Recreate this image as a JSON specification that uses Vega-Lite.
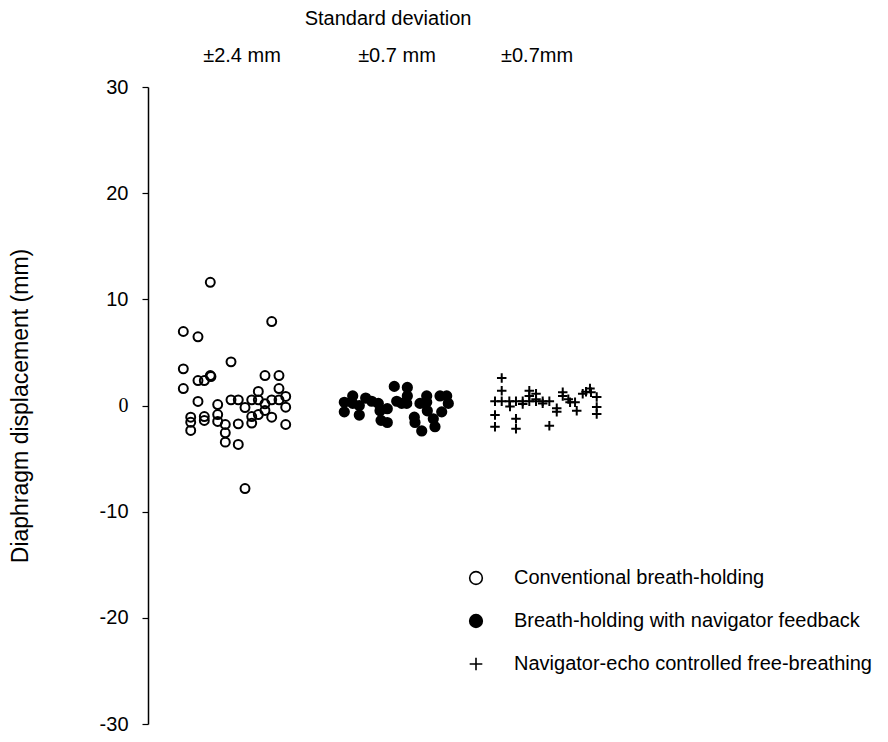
{
  "$schema": "https://vega.github.io/schema/vega-lite/v6.json",
  "width": 740,
  "height": 637,
  "autosize": {"type": "none"},
  "padding": {"left": 148, "top": 87, "right": 0, "bottom": 18},
  "background": "white",
  "config": {"view": {"stroke": null}, "font": "Liberation Sans"},
  "datasets": {
    "points": [
      {"group": "Conventional breath-holding", "x": 5.25, "y": 6.97},
      {"group": "Conventional breath-holding", "x": 5.25, "y": 3.45},
      {"group": "Conventional breath-holding", "x": 5.25, "y": 1.6},
      {"group": "Conventional breath-holding", "x": 6.35, "y": -1.1},
      {"group": "Conventional breath-holding", "x": 6.35, "y": -1.57},
      {"group": "Conventional breath-holding", "x": 6.35, "y": -2.35},
      {"group": "Conventional breath-holding", "x": 7.43, "y": 6.47},
      {"group": "Conventional breath-holding", "x": 7.43, "y": 2.35},
      {"group": "Conventional breath-holding", "x": 7.43, "y": 0.38},
      {"group": "Conventional breath-holding", "x": 8.37, "y": 2.35},
      {"group": "Conventional breath-holding", "x": 8.37, "y": -1.04},
      {"group": "Conventional breath-holding", "x": 8.37, "y": -1.41},
      {"group": "Conventional breath-holding", "x": 9.26, "y": 11.6},
      {"group": "Conventional breath-holding", "x": 9.26, "y": 2.82},
      {"group": "Conventional breath-holding", "x": 9.36, "y": 2.73},
      {"group": "Conventional breath-holding", "x": 10.36, "y": 0.09},
      {"group": "Conventional breath-holding", "x": 10.36, "y": -0.85},
      {"group": "Conventional breath-holding", "x": 10.36, "y": -1.5},
      {"group": "Conventional breath-holding", "x": 11.49, "y": -1.79},
      {"group": "Conventional breath-holding", "x": 11.49, "y": -2.57},
      {"group": "Conventional breath-holding", "x": 11.49, "y": -3.45},
      {"group": "Conventional breath-holding", "x": 12.34, "y": 4.11},
      {"group": "Conventional breath-holding", "x": 12.34, "y": 0.53},
      {"group": "Conventional breath-holding", "x": 13.42, "y": 0.53},
      {"group": "Conventional breath-holding", "x": 13.42, "y": -1.73},
      {"group": "Conventional breath-holding", "x": 13.42, "y": -3.67},
      {"group": "Conventional breath-holding", "x": 14.42, "y": -0.19},
      {"group": "Conventional breath-holding", "x": 14.42, "y": -7.82},
      {"group": "Conventional breath-holding", "x": 15.42, "y": 0.53},
      {"group": "Conventional breath-holding", "x": 15.42, "y": -1.04},
      {"group": "Conventional breath-holding", "x": 15.42, "y": -1.66},
      {"group": "Conventional breath-holding", "x": 16.4, "y": 1.32},
      {"group": "Conventional breath-holding", "x": 16.4, "y": 0.53},
      {"group": "Conventional breath-holding", "x": 16.4, "y": -0.85},
      {"group": "Conventional breath-holding", "x": 17.39, "y": 2.82},
      {"group": "Conventional breath-holding", "x": 17.39, "y": 0.16},
      {"group": "Conventional breath-holding", "x": 17.39, "y": -0.47},
      {"group": "Conventional breath-holding", "x": 18.39, "y": 7.91},
      {"group": "Conventional breath-holding", "x": 18.39, "y": 0.53},
      {"group": "Conventional breath-holding", "x": 18.39, "y": -1.1},
      {"group": "Conventional breath-holding", "x": 19.47, "y": 2.82},
      {"group": "Conventional breath-holding", "x": 19.47, "y": 1.6},
      {"group": "Conventional breath-holding", "x": 19.47, "y": 0.53},
      {"group": "Conventional breath-holding", "x": 20.47, "y": 0.85},
      {"group": "Conventional breath-holding", "x": 20.47, "y": -0.16},
      {"group": "Conventional breath-holding", "x": 20.47, "y": -1.79},

      {"group": "Breath-holding with navigator feedback", "x": 29.18, "y": 0.3},
      {"group": "Breath-holding with navigator feedback", "x": 29.18, "y": -0.6},
      {"group": "Breath-holding with navigator feedback", "x": 30.43, "y": 0.9},
      {"group": "Breath-holding with navigator feedback", "x": 30.43, "y": 0.2},
      {"group": "Breath-holding with navigator feedback", "x": 31.41, "y": 0.0},
      {"group": "Breath-holding with navigator feedback", "x": 31.41, "y": -0.9},
      {"group": "Breath-holding with navigator feedback", "x": 32.36, "y": 0.7},
      {"group": "Breath-holding with navigator feedback", "x": 33.25, "y": 0.4},
      {"group": "Breath-holding with navigator feedback", "x": 34.24, "y": 0.2},
      {"group": "Breath-holding with navigator feedback", "x": 34.49, "y": -0.5},
      {"group": "Breath-holding with navigator feedback", "x": 34.64, "y": -1.4},
      {"group": "Breath-holding with navigator feedback", "x": 35.57, "y": -1.6},
      {"group": "Breath-holding with navigator feedback", "x": 35.57, "y": -0.3},
      {"group": "Breath-holding with navigator feedback", "x": 36.61, "y": 1.8},
      {"group": "Breath-holding with navigator feedback", "x": 36.97, "y": 0.4},
      {"group": "Breath-holding with navigator feedback", "x": 37.71, "y": 0.2},
      {"group": "Breath-holding with navigator feedback", "x": 38.55, "y": 1.7},
      {"group": "Breath-holding with navigator feedback", "x": 38.55, "y": 0.9},
      {"group": "Breath-holding with navigator feedback", "x": 38.46, "y": 0.2},
      {"group": "Breath-holding with navigator feedback", "x": 39.59, "y": -1.1},
      {"group": "Breath-holding with navigator feedback", "x": 39.69, "y": -1.6},
      {"group": "Breath-holding with navigator feedback", "x": 40.43, "y": 0.2},
      {"group": "Breath-holding with navigator feedback", "x": 40.69, "y": -2.4},
      {"group": "Breath-holding with navigator feedback", "x": 41.43, "y": 0.9},
      {"group": "Breath-holding with navigator feedback", "x": 41.43, "y": 0.3},
      {"group": "Breath-holding with navigator feedback", "x": 41.52, "y": -0.5},
      {"group": "Breath-holding with navigator feedback", "x": 42.41, "y": -1.25},
      {"group": "Breath-holding with navigator feedback", "x": 42.66, "y": -2.0},
      {"group": "Breath-holding with navigator feedback", "x": 43.41, "y": 0.9},
      {"group": "Breath-holding with navigator feedback", "x": 43.66, "y": -0.6},
      {"group": "Breath-holding with navigator feedback", "x": 44.4, "y": 0.9},
      {"group": "Breath-holding with navigator feedback", "x": 44.64, "y": 0.2},

      {"group": "Navigator-echo controlled free-breathing", "x": 51.58, "y": 0.4},
      {"group": "Navigator-echo controlled free-breathing", "x": 51.58, "y": -0.9},
      {"group": "Navigator-echo controlled free-breathing", "x": 51.58, "y": -2.0},
      {"group": "Navigator-echo controlled free-breathing", "x": 52.58, "y": 2.6},
      {"group": "Navigator-echo controlled free-breathing", "x": 52.58, "y": 1.4},
      {"group": "Navigator-echo controlled free-breathing", "x": 52.58, "y": 0.4},
      {"group": "Navigator-echo controlled free-breathing", "x": 53.71, "y": 0.4},
      {"group": "Navigator-echo controlled free-breathing", "x": 53.81, "y": -0.1},
      {"group": "Navigator-echo controlled free-breathing", "x": 54.7, "y": 0.4},
      {"group": "Navigator-echo controlled free-breathing", "x": 54.7, "y": -1.25},
      {"group": "Navigator-echo controlled free-breathing", "x": 54.7, "y": -2.2},
      {"group": "Navigator-echo controlled free-breathing", "x": 55.7, "y": 0.4},
      {"group": "Navigator-echo controlled free-breathing", "x": 55.7, "y": 0.15},
      {"group": "Navigator-echo controlled free-breathing", "x": 56.68, "y": 1.4},
      {"group": "Navigator-echo controlled free-breathing", "x": 56.68, "y": 0.9},
      {"group": "Navigator-echo controlled free-breathing", "x": 56.68, "y": 0.4},
      {"group": "Navigator-echo controlled free-breathing", "x": 57.68, "y": 1.1},
      {"group": "Navigator-echo controlled free-breathing", "x": 57.68, "y": 0.6},
      {"group": "Navigator-echo controlled free-breathing", "x": 57.68, "y": 0.4},
      {"group": "Navigator-echo controlled free-breathing", "x": 58.67, "y": 0.2},
      {"group": "Navigator-echo controlled free-breathing", "x": 58.67, "y": 0.4},
      {"group": "Navigator-echo controlled free-breathing", "x": 59.66, "y": 0.4},
      {"group": "Navigator-echo controlled free-breathing", "x": 59.66, "y": -1.9},
      {"group": "Navigator-echo controlled free-breathing", "x": 60.76, "y": -0.25},
      {"group": "Navigator-echo controlled free-breathing", "x": 60.76, "y": -0.6},
      {"group": "Navigator-echo controlled free-breathing", "x": 61.65, "y": 1.25},
      {"group": "Navigator-echo controlled free-breathing", "x": 61.65, "y": 0.9},
      {"group": "Navigator-echo controlled free-breathing", "x": 62.48, "y": 0.6},
      {"group": "Navigator-echo controlled free-breathing", "x": 62.74, "y": 0.3},
      {"group": "Navigator-echo controlled free-breathing", "x": 63.48, "y": 0.3},
      {"group": "Navigator-echo controlled free-breathing", "x": 63.73, "y": -0.5},
      {"group": "Navigator-echo controlled free-breathing", "x": 64.62, "y": 1.1},
      {"group": "Navigator-echo controlled free-breathing", "x": 65.11, "y": 1.3},
      {"group": "Navigator-echo controlled free-breathing", "x": 65.7, "y": 1.6},
      {"group": "Navigator-echo controlled free-breathing", "x": 65.85, "y": 1.25},
      {"group": "Navigator-echo controlled free-breathing", "x": 66.7, "y": 0.8},
      {"group": "Navigator-echo controlled free-breathing", "x": 66.7, "y": -0.15},
      {"group": "Navigator-echo controlled free-breathing", "x": 66.7, "y": -0.8}
    ],
    "headers": [
      {"label": "Standard deviation", "x": 35.68, "y": 36.45},
      {"label": "±2.4 mm", "x": 13.97, "y": 32.95},
      {"label": "±0.7 mm", "x": 37.01, "y": 32.95},
      {"label": "±0.7mm", "x": 57.83, "y": 32.95}
    ]
  },
  "layer": [
    {
      "data": {"name": "points"},
      "mark": {"type": "point", "strokeWidth": 2, "opacity": 1},
      "encoding": {
        "x": {"field": "x", "type": "quantitative", "scale": {"domain": [0, 110], "nice": false, "zero": false}, "axis": null},
        "y": {
          "field": "y", "type": "quantitative",
          "scale": {"domain": [-30, 30], "nice": false},
          "axis": {
            "values": [-30, -20, -10, 0, 10, 20, 30],
            "labelExpr": "toString(datum.value)",
            "title": "Diaphragm displacement (mm)",
            "titleFont": "Liberation Sans", "titleFontSize": 23, "titleFontWeight": "normal", "titleColor": "black",
            "titlePadding": 67,
            "labelFont": {"condition": {"test": "datum.value == 0", "value": "Liberation Serif"}, "value": "Liberation Sans"},
            "labelFontSize": 20, "labelColor": "black", "labelPadding": 14,
            "domainColor": "black", "domainWidth": 1.5,
            "tickColor": "black", "tickSize": 6, "tickWidth": 1.2,
            "grid": false
          }
        },
        "shape": {
          "field": "group", "type": "nominal",
          "scale": {
            "domain": ["Conventional breath-holding", "Breath-holding with navigator feedback", "Navigator-echo controlled free-breathing"],
            "range": ["circle", "circle", "M-1,0H1M0,-1V1"]
          },
          "legend": {
            "title": null, "orient": "none", "legendX": 318, "legendY": 481,
            "labelFont": "Liberation Sans", "labelFontSize": 20, "labelColor": "black", "labelLimit": 500,
            "labelOffset": 28, "rowPadding": 23, "symbolSize": 160, "symbolStrokeWidth": 1.6
          }
        },
        "fill": {
          "field": "group", "type": "nominal",
          "scale": {
            "domain": ["Conventional breath-holding", "Breath-holding with navigator feedback", "Navigator-echo controlled free-breathing"],
            "range": ["transparent", "black", "transparent"]
          },
          "legend": {
            "title": null, "orient": "none", "legendX": 318, "legendY": 481,
            "labelFont": "Liberation Sans", "labelFontSize": 20, "labelColor": "black", "labelLimit": 500,
            "labelOffset": 28, "rowPadding": 23, "symbolSize": 160, "symbolStrokeWidth": 1.6
          }
        },
        "stroke": {
          "field": "group", "type": "nominal",
          "scale": {
            "domain": ["Conventional breath-holding", "Breath-holding with navigator feedback", "Navigator-echo controlled free-breathing"],
            "range": ["black", "black", "black"]
          },
          "legend": {
            "title": null, "orient": "none", "legendX": 318, "legendY": 481,
            "labelFont": "Liberation Sans", "labelFontSize": 20, "labelColor": "black", "labelLimit": 500,
            "labelOffset": 28, "rowPadding": 23, "symbolSize": 160, "symbolStrokeWidth": 1.6
          }
        },
        "size": {
          "field": "group", "type": "nominal",
          "scale": {
            "domain": ["Navigator-echo controlled free-breathing", "Breath-holding with navigator feedback", "Conventional breath-holding"],
            "range": [90, 80, 45]
          },
          "legend": null
        }
      }
    },
    {
      "data": {"name": "headers"},
      "mark": {"type": "text", "font": "Liberation Sans", "fontSize": 20, "color": "black", "baseline": "middle", "align": "center"},
      "encoding": {
        "x": {"field": "x", "type": "quantitative"},
        "y": {"field": "y", "type": "quantitative"},
        "text": {"field": "label"}
      }
    }
  ]
}
